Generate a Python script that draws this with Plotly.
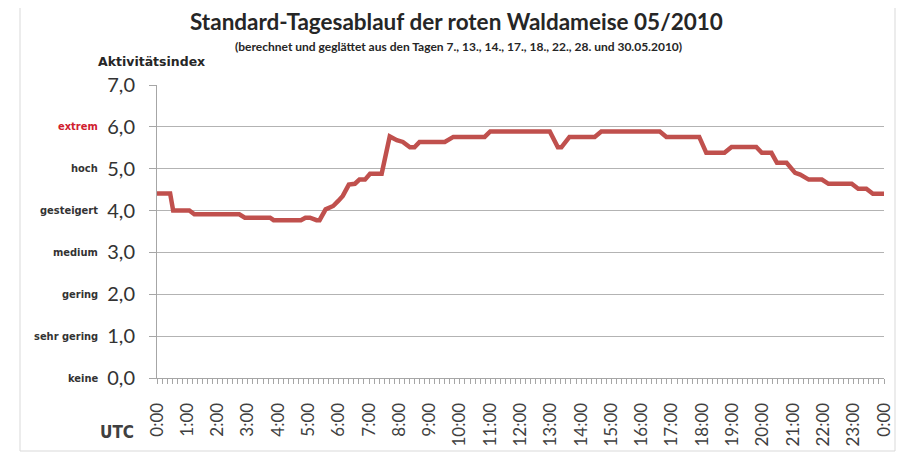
import plotly.graph_objects as go

# ---- data ----
time_min = [0, 26, 32, 64, 74, 163, 174, 224, 231, 285, 294, 303, 316, 322, 334, 349, 359, 368,
            380, 392, 401, 412, 422, 445, 461, 475, 487, 501, 510, 520, 570, 587, 649, 660,
            778, 794, 801, 817, 867, 880, 996, 1009, 1074, 1078, 1088, 1124, 1138, 1187, 1198,
            1217, 1228, 1247, 1264, 1274, 1291, 1317, 1330, 1376, 1389, 1405, 1418, 1440]
activity = [4.41, 4.41, 4.00, 4.00, 3.91, 3.91, 3.83, 3.83, 3.77, 3.77, 3.83, 3.83, 3.77, 3.77,
            4.03, 4.11, 4.23, 4.35, 4.62, 4.64, 4.74, 4.74, 4.88, 4.88, 5.77, 5.68, 5.64, 5.51,
            5.51, 5.64, 5.64, 5.76, 5.76, 5.89, 5.89, 5.51, 5.51, 5.76, 5.76, 5.89, 5.89, 5.76,
            5.76, 5.65, 5.38, 5.38, 5.52, 5.52, 5.38, 5.38, 5.14, 5.14, 4.90, 4.86, 4.74, 4.74,
            4.64, 4.64, 4.52, 4.52, 4.40, 4.40]

hour_ticks = [0, 1, 2, 3, 4, 5, 6, 7, 8, 9, 10, 11, 12, 13, 14, 15, 16, 17, 18, 19, 20, 21, 22, 23, 24]
hour_labels = ["0:00", "1:00", "2:00", "3:00", "4:00", "5:00", "6:00", "7:00", "8:00", "9:00",
               "10:00", "11:00", "12:00", "13:00", "14:00", "15:00", "16:00", "17:00", "18:00",
               "19:00", "20:00", "21:00", "22:00", "23:00", "0:00"]
y_ticks = [0, 1, 2, 3, 4, 5, 6, 7]
y_labels = ["0,0", "1,0", "2,0", "3,0", "4,0", "5,0", "6,0", "7,0"]
level_names = ["keine", "sehr gering", "gering", "medium", "gesteigert", "hoch", "extrem"]

title = "Standard-Tagesablauf der roten Waldameise 05/2010"
subtitle = "(berechnet und geglättet aus den Tagen 7., 13., 14., 17., 18., 22., 28. und 30.05.2010)"

# ---- layout geometry (window pixels; page body has an 8px margin) ----
OFF = 8
W, H = 904 - OFF, 453 - OFF
L, R, T, B = 157, 884, 85, 378


def px_x(x):
    return (x - L) / (R - L)


def px_y(y):
    return (B - y) / (B - T)


fig = go.Figure()
fig.add_trace(go.Scatter(
    x=[m / 60 for m in time_min], y=activity, mode="lines",
    line=dict(color="#C0504D", width=4.5), hoverinfo="skip", showlegend=False))

axis_grey = "#a6a6a6"
fig.update_layout(
    width=W, height=H,
    margin=dict(l=L - OFF, r=(W + OFF) - R, t=T - OFF, b=(H + OFF) - B, autoexpand=False),
    paper_bgcolor="white", plot_bgcolor="white",
    showlegend=False,
    xaxis=dict(range=[0, 24], tickvals=hour_ticks, ticktext=hour_labels, tickangle=-90,
               ticks="outside", ticklen=5, tickcolor=axis_grey, showline=True,
               linecolor=axis_grey, linewidth=1, showgrid=False, zeroline=False,
               minor=dict(dtick=1 / 6, tick0=0, ticks="outside", ticklen=5,
                          tickcolor=axis_grey, showgrid=False),
               ticklabelstandoff=12,
               tickfont=dict(family="Lato", size=17, color="#404040"), fixedrange=True),
    yaxis=dict(range=[0, 7], tickvals=y_ticks, ticktext=y_labels, ticks="outside",
               ticklen=7, tickcolor=axis_grey, showline=True, linecolor=axis_grey,
               linewidth=1, gridcolor="#b3b3b3", gridwidth=1, zeroline=False,
               ticklabelstandoff=10,
               tickfont=dict(family="Lato", size=20, color="#333333"), fixedrange=True),
)

ann = []
ann.append(dict(text="<b>" + title + "</b>", xref="paper", yref="paper",
                x=px_x(456), y=px_y(22), xanchor="center", yanchor="middle", showarrow=False,
                font=dict(family="Lato", size=22.5, color="#262626")))
ann.append(dict(text="<b>" + subtitle + "</b>", xref="paper", yref="paper",
                x=px_x(458), y=px_y(46), xanchor="center", yanchor="middle", showarrow=False,
                font=dict(family="Lato", size=12, color="#262626")))
ann.append(dict(text="<b>Aktivitätsindex</b>", xref="paper", yref="paper",
                x=px_x(151), y=px_y(62), xanchor="center", yanchor="middle", showarrow=False,
                font=dict(family="DejaVu Sans", size=12.5, color="#262626")))
for i, name in enumerate(level_names):
    ann.append(dict(text="<b>" + name + "</b>", xref="paper", yref="y",
                    x=px_x(100), y=y_ticks[i], xanchor="right", yanchor="middle",
                    showarrow=False,
                    font=dict(family="DejaVu Sans Condensed", size=11,
                              color="#d0202e" if name == "extrem" else "#333333")))
ann.append(dict(text="<b>UTC</b>", xref="paper", yref="paper",
                x=px_x(136), y=px_y(432), xanchor="right", yanchor="middle", showarrow=False,
                font=dict(family="DejaVu Sans Condensed", size=17, color="#404040")))
fig.update_layout(annotations=ann)

fig.add_shape(type="rect", xref="paper", yref="paper",
              x0=px_x(20), x1=px_x(895), y0=px_y(451), y1=px_y(4),
              line=dict(color="#d9d9d9", width=1), fillcolor="rgba(0,0,0,0)", layer="below")

fig.write_html("out.html", config={"displayModeBar": False})
